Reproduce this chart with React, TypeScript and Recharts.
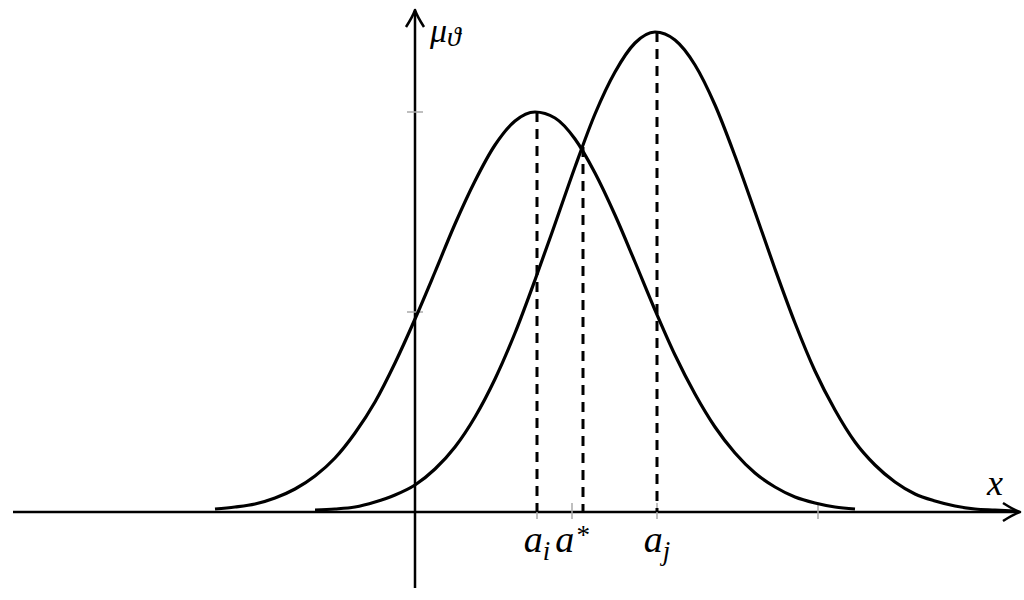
import { LineChart, Line, XAxis, YAxis, ReferenceLine } from 'recharts'

// x positions shared by both curves (step 0.2)
const xGrid = [
  -2.0, -1.8, -1.6, -1.4, -1.2, -1.0, -0.8, -0.6, -0.4, -0.2,
  0.0, 0.2, 0.4, 0.6, 0.8, 1.0, 1.2, 1.4, 1.6, 1.8,
  2.0, 2.2, 2.4, 2.6, 2.8, 3.0, 3.2, 3.4, 3.6, 3.8,
  4.0, 4.2, 4.4, 4.6, 4.8, 5.0, 5.2, 5.4, 5.6, 5.8, 6.0,
]

// left bell (peak at a_i), from x = -2.0 to 4.4
const leftCurve = [
  0.03, 0.05, 0.08, 0.14, 0.23, 0.36, 0.54, 0.79, 1.1, 1.49,
  1.93, 2.4, 2.88, 3.31, 3.67, 3.91, 4.0, 3.94, 3.73, 3.39,
  2.97, 2.5, 2.02, 1.57, 1.18, 0.85, 0.59, 0.39, 0.25, 0.15,
  0.09, 0.05, 0.03,
]

// right bell (peak at a_j), from x = -1.0 to 6.0
const rightStart = 5
const rightCurve = [
  0.02, 0.03, 0.05, 0.1, 0.17, 0.27, 0.43, 0.65, 0.95, 1.33,
  1.79, 2.32, 2.88, 3.45, 3.98, 4.4, 4.69, 4.8, 4.72, 4.47,
  4.07, 3.56, 3.0, 2.43, 1.89, 1.41, 1.02, 0.7, 0.47, 0.3,
  0.18, 0.11, 0.06, 0.03, 0.02, 0.01,
]

// dashed drop lines: position and height
const dropX = [1.22, 1.68, 2.42]
const dropTop = [4.0, 3.65, 4.8]

// small ticks on the axes
const xTicks = [1.22, 1.57, 2.42, 4.03]
const xTickLabels = [
  { main: 'a', sub: 'i' },
  { main: 'a', sup: '*' },
  { main: 'a', sub: 'j' },
  null,
]
const yTicks = [2, 4]

const leftData = leftCurve.map((y, i) => ({ x: xGrid[i], y }))
const rightData = rightCurve.map((y, i) => ({ x: xGrid[i + rightStart], y }))

const mathFont = "'Liberation Serif', 'DejaVu Serif', serif"

function ArrowLine(props: any) {
  const { x1, y1, x2, y2 } = props
  const ang = Math.atan2(y2 - y1, x2 - x1)
  const c = Math.cos(ang)
  const s = Math.sin(ang)
  const pt = (px: number, py: number) =>
    `${x2 + px * c - py * s},${y2 + px * s + py * c}`
  const d = `M${pt(-17, -9)} Q${pt(-6, -2)} ${pt(0, 0)} Q${pt(-6, 2)} ${pt(-17, 9)}`
  return (
    <g>
      <line x1={x1} y1={y1} x2={x2 - 2 * c} y2={y2 - 2 * s} stroke="#000" strokeWidth={2.5} />
      <path d={d} fill="none" stroke="#000" strokeWidth={2.5} strokeLinejoin="round" />
    </g>
  )
}

const tickLabel = (label: any) => (props: any) => {
  if (!label) return null
  const { viewBox } = props
  return (
    <text
      x={viewBox.x}
      y={viewBox.y + 49}
      textAnchor="middle"
      fontFamily={mathFont}
      fontStyle="italic"
      fontSize={38}
      fill="#000"
    >
      {label.main}
      {label.sub && (
        <tspan fontSize={27} dy={8}>
          {label.sub}
        </tspan>
      )}
      {label.sup && (
        <tspan fontSize={27} dx={1} dy={-8}>
          {label.sup}
        </tspan>
      )}
    </text>
  )
}

const yAxisLabel = (props: any) => {
  const { viewBox } = props
  return (
    <text
      x={viewBox.x + 15}
      y={viewBox.y + 32}
      fontFamily={mathFont}
      fontStyle="italic"
      fontSize={34}
      fill="#000"
    >
      μ
      <tspan fontSize={28} dy={4}>
        ϑ
      </tspan>
    </text>
  )
}

const xAxisLabel = (props: any) => {
  const { viewBox } = props
  return (
    <text
      x={viewBox.x + viewBox.width - 25}
      y={viewBox.y - 17}
      textAnchor="middle"
      fontFamily={mathFont}
      fontStyle="italic"
      fontSize={36}
      fill="#000"
    >
      x
    </text>
  )
}

export default function App() {
  return (
    <div style={{ position: 'absolute', left: 0, top: 0, background: '#fff' }}>
      <LineChart width={1024} height={600} margin={{ top: 0, right: 0, bottom: 0, left: 0 }}>
        <XAxis
          type="number"
          dataKey="x"
          domain={[-4.15, 6.09]}
          allowDataOverflow
          hide
        />
        <YAxis type="number" domain={[-0.88, 5.12]} allowDataOverflow hide />

        {/* axes with arrow heads */}
        <ReferenceLine
          segment={[{ x: -4.02, y: 0 }, { x: 6.05, y: 0 }]}
          ifOverflow="visible"
          shape={ArrowLine}
          label={xAxisLabel}
        />
        <ReferenceLine
          segment={[{ x: 0, y: -0.76 }, { x: 0, y: 5.02 }]}
          ifOverflow="visible"
          shape={ArrowLine}
          label={yAxisLabel}
        />

        {yTicks.map((t) => (
          <ReferenceLine
            key={`yt-${t}`}
            segment={[{ x: -0.08, y: t }, { x: 0.08, y: t }]}
            stroke="#aaa"
            strokeWidth={1.5}
          />
        ))}
        {xTicks.map((t, i) => (
          <ReferenceLine
            key={`xt-${t}`}
            segment={[{ x: t, y: 0.09 }, { x: t, y: -0.07 }]}
            stroke="#aaa"
            strokeWidth={1.5}
            label={tickLabel(xTickLabels[i])}
          />
        ))}

        <Line
          data={leftData}
          dataKey="y"
          type="monotone"
          stroke="#000"
          strokeWidth={3.2}
          dot={false}
          activeDot={false}
          isAnimationActive={false}
        />
        <Line
          data={rightData}
          dataKey="y"
          type="monotone"
          stroke="#000"
          strokeWidth={3.2}
          dot={false}
          activeDot={false}
          isAnimationActive={false}
        />

        {dropX.map((x, i) => (
          <ReferenceLine
            key={`drop-${x}`}
            segment={[{ x, y: dropTop[i] }, { x, y: 0 }]}
            stroke="#000"
            strokeWidth={3}
            strokeDasharray="10 7"
          />
        ))}
      </LineChart>
    </div>
  )
}
